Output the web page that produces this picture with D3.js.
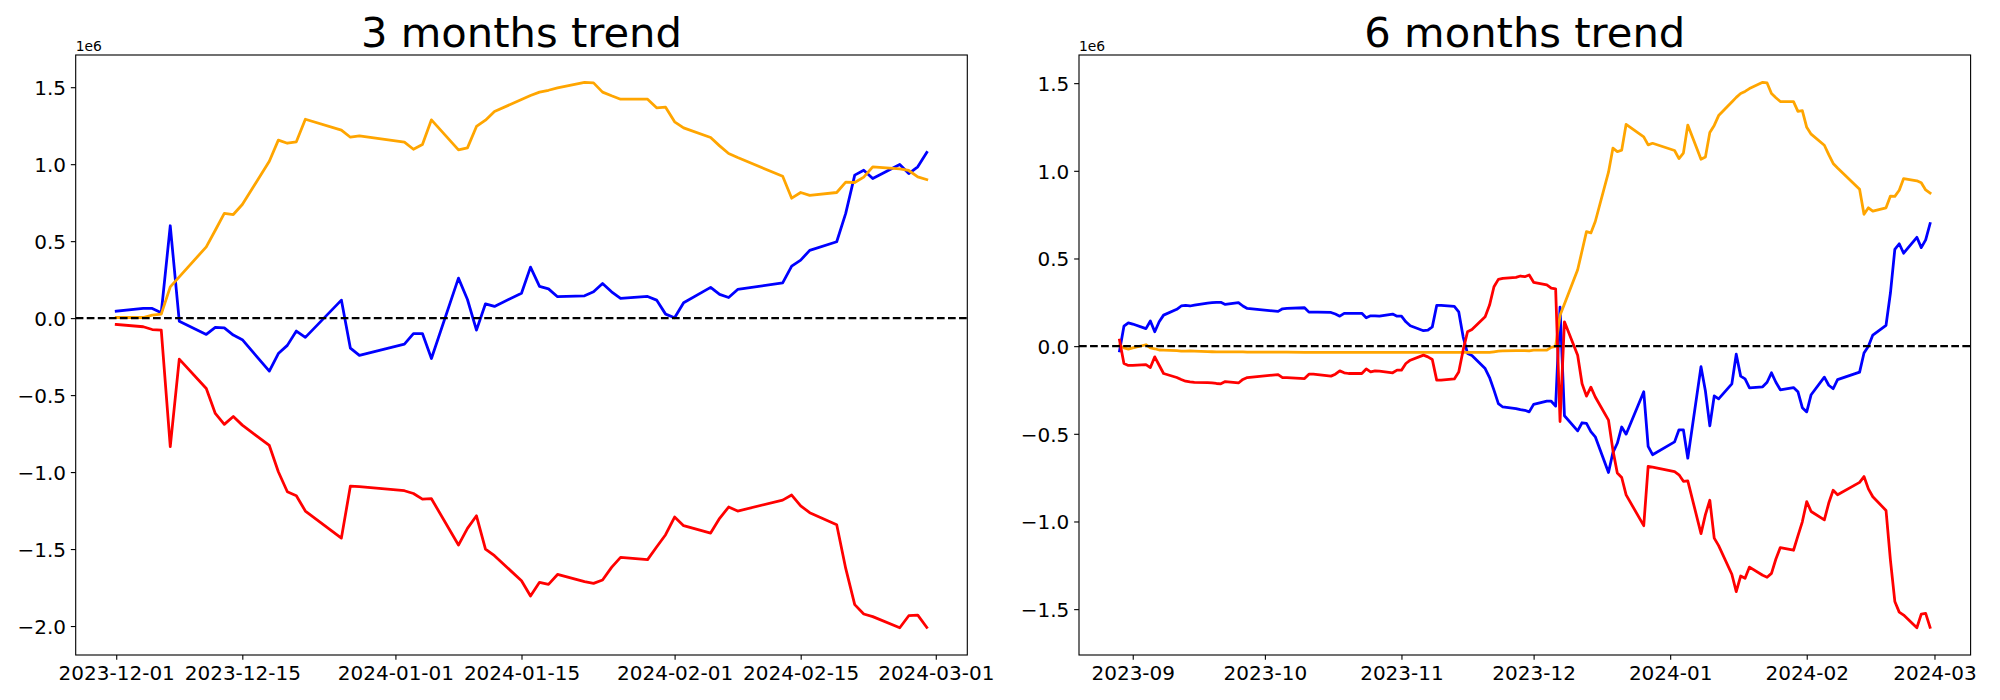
<!DOCTYPE html>
<html><head><meta charset="utf-8">
<script src="https://cdn.jsdelivr.net/npm/d3@7"></script>
<style>body{margin:0;background:#fff;} svg{display:block;}</style>
</head><body>
<svg id="chart" width="2000" height="700"></svg>
<script>
// ---------- DATA (values in units of 1e6) ----------
const datesLeft = ["2023-12-01","2023-12-04","2023-12-05","2023-12-06","2023-12-07","2023-12-08","2023-12-11","2023-12-12","2023-12-13","2023-12-14","2023-12-15","2023-12-18","2023-12-19","2023-12-20","2023-12-21","2023-12-22","2023-12-26","2023-12-27","2023-12-28",
"2024-01-02","2024-01-03","2024-01-04","2024-01-05","2024-01-08","2024-01-09","2024-01-10","2024-01-11","2024-01-12","2024-01-15","2024-01-16","2024-01-17","2024-01-18","2024-01-19","2024-01-22","2024-01-23","2024-01-24","2024-01-25","2024-01-26","2024-01-29","2024-01-30","2024-01-31",
"2024-02-01","2024-02-02","2024-02-05","2024-02-06","2024-02-07","2024-02-08","2024-02-13","2024-02-14","2024-02-15","2024-02-16","2024-02-19","2024-02-20","2024-02-21","2024-02-22","2024-02-23","2024-02-26","2024-02-27","2024-02-28","2024-02-29"];

const blueLeft = [0.045,0.063,0.063,0.035,0.60,-0.02,-0.106,-0.06,-0.063,-0.11,-0.14,-0.344,-0.23,-0.177,-0.084,-0.125,0.117,-0.195,-0.242,
-0.169,-0.10,-0.10,-0.262,0.26,0.121,-0.078,0.093,0.076,0.162,0.331,0.206,0.19,0.139,0.145,0.171,0.225,0.171,0.128,0.141,0.117,0.026,
0.002,0.10,0.20,0.154,0.134,0.186,0.229,0.338,0.377,0.44,0.496,0.68,0.929,0.961,0.907,0.998,0.939,0.983,1.076];

const orangeLeft = [0.004,0.004,0.02,0.026,0.203,0.268,0.463,0.571,0.68,0.673,0.738,1.019,1.156,1.136,1.145,1.292,1.221,1.175,1.184,
1.143,1.097,1.128,1.288,1.093,1.106,1.245,1.286,1.342,1.42,1.446,1.468,1.48,1.496,1.532,1.528,1.468,1.444,1.422,1.422,1.366,1.37,
1.275,1.236,1.173,1.119,1.069,1.043,0.922,0.779,0.816,0.797,0.816,0.883,0.881,0.916,0.983,0.97,0.959,0.918,0.90];

const redLeft = [-0.041,-0.056,-0.074,-0.078,-0.835,-0.266,-0.457,-0.619,-0.69,-0.639,-0.695,-0.827,-0.998,-1.128,-1.154,-1.253,-1.429,-1.091,-1.095,
-1.121,-1.139,-1.176,-1.173,-1.474,-1.366,-1.284,-1.5,-1.543,-1.706,-1.805,-1.716,-1.729,-1.665,-1.712,-1.723,-1.701,-1.619,-1.554,-1.569,-1.487,-1.407,
-1.292,-1.348,-1.396,-1.3,-1.227,-1.253,-1.182,-1.149,-1.219,-1.264,-1.342,-1.626,-1.861,-1.922,-1.939,-2.011,-1.933,-1.929,-2.009];

const datesRight = ["2023-08-29","2023-08-30","2023-08-31",
"2023-09-01","2023-09-04","2023-09-05","2023-09-06","2023-09-07","2023-09-08","2023-09-11","2023-09-12","2023-09-13","2023-09-14","2023-09-15","2023-09-18","2023-09-19","2023-09-20","2023-09-21","2023-09-22","2023-09-25","2023-09-26","2023-09-27",
"2023-10-04","2023-10-05","2023-10-06","2023-10-10","2023-10-11","2023-10-12","2023-10-13","2023-10-16","2023-10-17","2023-10-18","2023-10-19","2023-10-20","2023-10-23","2023-10-24","2023-10-25","2023-10-26","2023-10-27","2023-10-30","2023-10-31",
"2023-11-01","2023-11-02","2023-11-03","2023-11-06","2023-11-07","2023-11-08","2023-11-09","2023-11-10","2023-11-13","2023-11-14","2023-11-15","2023-11-16","2023-11-17","2023-11-20","2023-11-21","2023-11-22","2023-11-23","2023-11-24","2023-11-27","2023-11-28","2023-11-29","2023-11-30",
"2023-12-01","2023-12-04","2023-12-05","2023-12-06","2023-12-07","2023-12-08","2023-12-11","2023-12-12","2023-12-13","2023-12-14","2023-12-15","2023-12-18","2023-12-19","2023-12-20","2023-12-21","2023-12-22","2023-12-26","2023-12-27","2023-12-28",
"2024-01-02","2024-01-03","2024-01-04","2024-01-05","2024-01-08","2024-01-09","2024-01-10","2024-01-11","2024-01-12","2024-01-15","2024-01-16","2024-01-17","2024-01-18","2024-01-19","2024-01-22","2024-01-23","2024-01-24","2024-01-25","2024-01-26","2024-01-29","2024-01-30","2024-01-31",
"2024-02-01","2024-02-02","2024-02-05","2024-02-06","2024-02-07","2024-02-08","2024-02-13","2024-02-14","2024-02-15","2024-02-16","2024-02-19","2024-02-20","2024-02-21","2024-02-22","2024-02-23","2024-02-26","2024-02-27","2024-02-28","2024-02-29"];

const blueRight = [-0.027,0.114,0.133,
0.126,0.10,0.143,0.082,0.139,0.177,0.21,0.229,0.232,0.229,0.234,0.246,0.248,0.25,0.25,0.238,0.248,0.229,0.215,
0.198,0.213,0.215,0.219,0.194,0.194,0.194,0.192,0.183,0.171,0.187,0.187,0.187,0.162,0.173,0.173,0.171,0.183,0.171,
0.171,0.139,0.116,0.088,0.091,0.11,0.232,0.232,0.227,0.196,0.053,-0.042,-0.053,-0.128,-0.179,-0.251,-0.328,-0.347,-0.356,-0.362,-0.366,-0.375,
-0.332,-0.314,-0.314,-0.342,0.223,-0.397,-0.483,-0.437,-0.44,-0.487,-0.517,-0.721,-0.607,-0.554,-0.461,-0.502,-0.26,-0.572,-0.619,
-0.546,-0.477,-0.477,-0.639,-0.117,-0.256,-0.455,-0.284,-0.301,-0.215,-0.046,-0.171,-0.187,-0.238,-0.232,-0.206,-0.152,-0.206,-0.249,-0.236,-0.26,-0.351,
-0.375,-0.277,-0.177,-0.223,-0.243,-0.191,-0.148,-0.039,0.0,0.063,0.119,0.303,0.552,0.584,0.53,0.621,0.562,0.606,0.699];

const orangeRight = [0.004,-0.01,-0.017,
-0.01,0.008,-0.01,-0.015,-0.022,-0.023,-0.026,-0.028,-0.028,-0.027,-0.028,-0.031,-0.032,-0.033,-0.033,-0.033,-0.033,-0.033,-0.034,
-0.034,-0.034,-0.034,-0.035,-0.035,-0.035,-0.035,-0.035,-0.035,-0.035,-0.035,-0.036,-0.036,-0.036,-0.036,-0.036,-0.036,-0.036,-0.036,
-0.036,-0.036,-0.036,-0.036,-0.036,-0.036,-0.036,-0.036,-0.036,-0.036,-0.036,-0.036,-0.036,-0.036,-0.036,-0.032,-0.028,-0.027,-0.026,-0.026,-0.026,-0.027,
-0.023,-0.023,-0.007,-0.001,0.176,0.241,0.436,0.544,0.653,0.646,0.711,0.992,1.129,1.109,1.118,1.265,1.194,1.148,1.157,
1.116,1.07,1.101,1.261,1.066,1.079,1.218,1.259,1.315,1.393,1.419,1.441,1.453,1.469,1.505,1.501,1.441,1.417,1.395,1.395,1.339,1.343,
1.248,1.209,1.146,1.092,1.042,1.016,0.895,0.752,0.789,0.77,0.789,0.856,0.854,0.889,0.956,0.943,0.932,0.891,0.873];

const redRight = [0.034,-0.099,-0.11,
-0.11,-0.105,-0.122,-0.061,-0.109,-0.156,-0.179,-0.19,-0.2,-0.204,-0.206,-0.208,-0.21,-0.213,-0.215,-0.202,-0.21,-0.19,-0.179,
-0.162,-0.179,-0.179,-0.185,-0.16,-0.16,-0.162,-0.171,-0.16,-0.141,-0.152,-0.156,-0.156,-0.13,-0.147,-0.141,-0.143,-0.152,-0.137,
-0.137,-0.099,-0.08,-0.051,-0.061,-0.076,-0.194,-0.194,-0.187,-0.147,-0.023,0.082,0.095,0.168,0.234,0.339,0.381,0.387,0.392,0.40,0.396,0.406,
0.364,0.349,0.331,0.327,-0.43,0.139,-0.052,-0.214,-0.285,-0.234,-0.29,-0.422,-0.593,-0.723,-0.749,-0.848,-1.024,-0.686,-0.69,
-0.716,-0.734,-0.771,-0.768,-1.069,-0.961,-0.879,-1.095,-1.138,-1.301,-1.4,-1.311,-1.324,-1.26,-1.307,-1.318,-1.296,-1.214,-1.149,-1.164,-1.082,-1.002,
-0.887,-0.943,-0.991,-0.895,-0.822,-0.848,-0.777,-0.744,-0.814,-0.859,-0.937,-1.221,-1.456,-1.517,-1.534,-1.606,-1.528,-1.524,-1.604];

const xTicksLeft = ["2023-12-01","2023-12-15","2024-01-01","2024-01-15","2024-02-01","2024-02-15","2024-03-01"];
const xTicksRight = ["2023-09","2023-10","2023-11","2023-12","2024-01","2024-02","2024-03"];
const yTicksLeft = [-2.0,-1.5,-1.0,-0.5,0.0,0.5,1.0,1.5];
const yTicksRight = [-1.5,-1.0,-0.5,0.0,0.5,1.0,1.5];
const titles = ["3 months trend","6 months trend"];
const seriesColors = ["blue","orange","red"];

// ---------- DRAW ----------
const svg = d3.select("#chart");
svg.append("rect").attr("width",2000).attr("height",700).attr("fill","#fff");
const FONT = "DejaVu Sans";
const PT = 100/72;
const Y0 = 55, Y1 = 655;

function padded(ext, frac) {
  const span = ext[1] - ext[0];
  return [ext[0] - span*frac, ext[1] + span*frac];
}

function panel(cfg) {
  const g = svg.append("g");
  const parse = d3.timeParse("%Y-%m-%d");
  const dates = cfg.dates.map(parse);
  const dExt = d3.extent(dates).map(d => +d);
  const xd = padded(dExt, 0.05);
  const x = d3.scaleTime().domain([new Date(xd[0]), new Date(xd[1])]).range([cfg.x0, cfg.x1]);
  const allVals = cfg.series.flat();
  const y = d3.scaleLinear().domain(padded(d3.extent(allVals), 0.05)).range([Y1, Y0]);

  // clip
  const cid = "clip" + cfg.id;
  svg.append("clipPath").attr("id", cid).append("rect")
    .attr("x", cfg.x0).attr("y", Y0).attr("width", cfg.x1 - cfg.x0).attr("height", Y1 - Y0);
  const plot = g.append("g").attr("clip-path", `url(#${cid})`);

  const line = d3.line().x((d,i) => x(dates[i])).y(d => y(d));
  cfg.series.forEach((s, k) => {
    plot.append("path").datum(s).attr("d", line)
      .attr("fill","none").attr("stroke", seriesColors[k])
      .attr("stroke-width", 2*PT).attr("stroke-linejoin","round").attr("stroke-linecap","square");
  });
  // zero dashed line
  plot.append("line").attr("x1", cfg.x0).attr("x2", cfg.x1).attr("y1", y(0)).attr("y2", y(0))
    .attr("stroke","#000").attr("stroke-width",1.5*PT)
    .attr("stroke-dasharray", `${3.7*1.5*PT},${1.6*1.5*PT}`);

  // spines
  g.append("rect").attr("x", cfg.x0).attr("y", Y0).attr("width", cfg.x1 - cfg.x0).attr("height", Y1 - Y0)
    .attr("fill","none").attr("stroke","#000").attr("stroke-width", 0.8*PT);

  // x axis
  const tickParse = cfg.id === 0 ? d3.timeParse("%Y-%m-%d") : d3.timeParse("%Y-%m");
  const tv = cfg.xTicks.map(tickParse);
  const gx = g.append("g").attr("transform", `translate(0,${Y1})`)
    .call(d3.axisBottom(x).tickValues(tv).tickFormat((d,i) => cfg.xTicks[i]).tickSize(3.5*PT).tickPadding(3.5*PT));
  gx.select(".domain").remove();
  gx.attr("font-family", FONT).attr("font-size", 20);
  gx.selectAll("line").attr("stroke","#000").attr("stroke-width",0.8*PT);
  gx.selectAll("text").attr("fill","#000").attr("dy","0.78em");

  // y axis
  const gy = g.append("g").attr("transform", `translate(${cfg.x0},0)`)
    .call(d3.axisLeft(y).tickValues(cfg.yTicks).tickFormat(d3.format(".1f")).tickSize(3.5*PT).tickPadding(3.5*PT));
  gy.select(".domain").remove();
  gy.attr("font-family", FONT).attr("font-size", 20);
  gy.selectAll("line").attr("stroke","#000").attr("stroke-width",0.8*PT);
  gy.selectAll("text").attr("fill","#000").attr("dy","0.36em");

  // offset text
  g.append("text").attr("x", cfg.x0).attr("y", 50.5).attr("font-family", FONT).attr("font-size", 10*PT)
    .attr("fill","#000").text("1e6");

  // title
  g.append("text").attr("x", (cfg.x0 + cfg.x1)/2).attr("y", Y0 - 6*PT).attr("text-anchor","middle")
    .attr("font-family", FONT).attr("font-size", 30*PT).attr("fill","#000").text(cfg.title);
}

panel({id:0, x0:75.7, x1:967.3, dates: datesLeft, series:[blueLeft, orangeLeft, redLeft],
       xTicks: xTicksLeft, yTicks: yTicksLeft, title: titles[0]});
panel({id:1, x0:1079, x1:1970.6, dates: datesRight, series:[blueRight, orangeRight, redRight],
       xTicks: xTicksRight, yTicks: yTicksRight, title: titles[1]});
</script>
</body></html>
